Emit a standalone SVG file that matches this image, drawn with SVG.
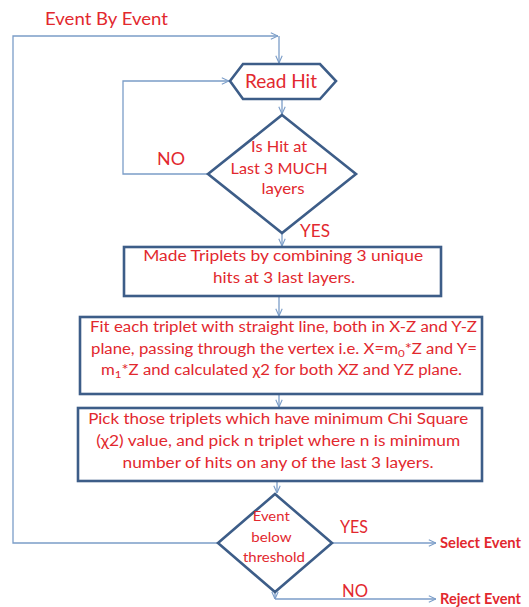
<svg xmlns="http://www.w3.org/2000/svg" width="529" height="607" viewBox="0 0 529 607">
<defs>
<style>
.t{font-family:Lato,"Open Sans","Liberation Sans",sans-serif;fill:#e2282e;}
.shape{fill:#ffffff;stroke:#3d5d88;stroke-width:2.6;stroke-linejoin:miter;}
.c{fill:none;stroke:#7b9dc8;stroke-width:1.3;}
</style>
<marker id="arr" viewBox="0 0 10 10" refX="10" refY="5" markerWidth="8" markerHeight="8" markerUnits="userSpaceOnUse" orient="auto">
<path d="M1,1 L10,5 L1,9" fill="none" stroke="#7b9dc8" stroke-width="1.4"/>
</marker>
</defs>
<rect width="529" height="607" fill="#ffffff"/>

<g id="connectors">
<path class="c" d="M218,543 H13 V36 H278" marker-end="url(#arr)"/>
<path class="c" d="M279,36 V63" marker-end="url(#arr)"/>
<path class="c" d="M282,99 V114" marker-end="url(#arr)"/>
<path class="c" d="M208,174 H123 V81 H229" marker-end="url(#arr)"/>
<path class="c" d="M282,233 V246" marker-end="url(#arr)"/>
<path class="c" d="M279,296 V316" marker-end="url(#arr)"/>
<path class="c" d="M279,394 V407" marker-end="url(#arr)"/>
<path class="c" d="M277,481 V493" marker-end="url(#arr)"/>
<path class="c" d="M332,543 H436" marker-end="url(#arr)"/>
<path class="c" d="M275,592 V599" marker-end="url(#arr)"/>
<path class="c" d="M275,599 H436" marker-end="url(#arr)"/>
</g>

<g id="label-event-by-event">
<text class="t" x="45" y="25" font-size="18" textLength="123" lengthAdjust="spacingAndGlyphs">Event By Event</text>
</g>

<g id="read-hit">
<polygon class="shape" points="230,81 243,64 320,64 336,81 320,99 243,99"/>
<text class="t" x="245" y="88" font-size="19" textLength="72" lengthAdjust="spacingAndGlyphs">Read Hit</text>
</g>

<g id="decision-hit">
<polygon class="shape" points="282,115 356,174 282,233 208,174"/>
<text class="t" font-size="15" text-anchor="middle">
<tspan x="281" y="152" textLength="56" lengthAdjust="spacingAndGlyphs">Is Hit at</tspan>
<tspan x="281" y="174" textLength="97" lengthAdjust="spacingAndGlyphs">Last 3 MUCH</tspan>
<tspan x="283" y="194" textLength="43" lengthAdjust="spacingAndGlyphs">layers</tspan>
</text>
</g>

<g id="label-no-1"><text class="t" x="157" y="165" font-size="17" textLength="28" lengthAdjust="spacingAndGlyphs">NO</text></g>
<g id="label-yes-1"><text class="t" x="300" y="237" font-size="17" textLength="30" lengthAdjust="spacingAndGlyphs">YES</text></g>

<g id="box-triplets">
<rect class="shape" x="124" y="247" width="317" height="49"/>
<text class="t" font-size="14.5" text-anchor="middle">
<tspan x="285" y="261" textLength="280" lengthAdjust="spacingAndGlyphs">Made Triplets by combining 3 unique</tspan>
<tspan x="284" y="283" textLength="142" lengthAdjust="spacingAndGlyphs">hits at 3 last layers.</tspan>
</text>
</g>

<g id="box-fit">
<rect class="shape" x="80" y="317" width="402" height="77"/>
<text class="t" font-size="14.5" x="90" y="332" textLength="387" lengthAdjust="spacingAndGlyphs">Fit each triplet with straight line, both in X-Z and Y-Z</text>
<text class="t" font-size="14.5" x="91" y="354" textLength="386" lengthAdjust="spacingAndGlyphs">plane, passing through the vertex i.e. X=m<tspan font-size="10" dy="3">0</tspan><tspan dy="-3">*Z and Y=</tspan></text>
<text class="t" font-size="14.5" x="101" y="375" textLength="361" lengthAdjust="spacingAndGlyphs">m<tspan font-size="10" dy="3">1</tspan><tspan dy="-3">*Z and calculated χ2 for both XZ and YZ plane.</tspan></text>
</g>

<g id="box-pick">
<rect class="shape" x="78" y="408" width="404" height="73"/>
<text class="t" font-size="14.5" text-anchor="middle">
<tspan x="280" y="424" textLength="380" lengthAdjust="spacingAndGlyphs">Pick those triplets which have minimum Chi Square</tspan>
<tspan x="280" y="446" textLength="364" lengthAdjust="spacingAndGlyphs">(χ2) value, and pick n triplet where n is minimum</tspan>
<tspan x="278" y="468" textLength="311" lengthAdjust="spacingAndGlyphs">number of hits on any of the last 3 layers.</tspan>
</text>
</g>

<g id="decision-threshold">
<polygon class="shape" points="275,494 332,543 275,592 218,543"/>
<text class="t" font-size="14" text-anchor="middle">
<tspan x="273" y="521" textLength="37" lengthAdjust="spacingAndGlyphs">Event</tspan>
<tspan x="273" y="542" textLength="40" lengthAdjust="spacingAndGlyphs">below</tspan>
<tspan x="274" y="562" textLength="62" lengthAdjust="spacingAndGlyphs">threshold</tspan>
</text>
</g>

<g id="label-yes-2"><text class="t" x="340" y="533" font-size="17" textLength="28" lengthAdjust="spacingAndGlyphs">YES</text></g>
<g id="label-no-2"><text class="t" x="342" y="597" font-size="17" textLength="26" lengthAdjust="spacingAndGlyphs">NO</text></g>

<g id="select-event"><text class="t" x="440" y="548" font-size="15" font-weight="bold" textLength="81" lengthAdjust="spacingAndGlyphs">Select Event</text></g>
<g id="reject-event"><text class="t" x="440" y="604" font-size="15" font-weight="bold" textLength="81" lengthAdjust="spacingAndGlyphs">Reject Event</text></g>
</svg>
